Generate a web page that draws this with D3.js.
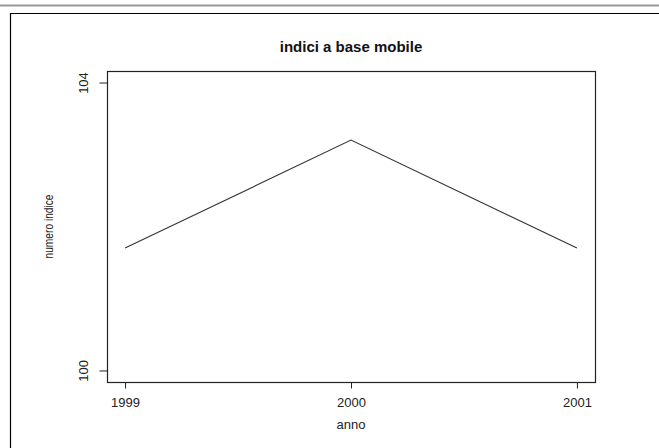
<!DOCTYPE html>
<html>
<head>
<meta charset="utf-8">
<script src="https://cdn.jsdelivr.net/npm/d3@7"></script>
<style>
  body { margin: 0; background: #fff; }
  svg { display: block; font-family: "Liberation Sans", Arial, sans-serif; }
</style>
</head>
<body>
<div id="chart"></div>
<script>
// data
var years = [1999, 2000, 2001];
var indexValues = [101.7, 103.2, 101.7];
var yTicks = [100, 104];
var yLimits = [100, 104];

var width = 659, height = 448;
var margin = { left: 107, right: 64, top: 71, bottom: 66 };

var svg = d3.select("#chart").append("svg")
    .attr("width", width)
    .attr("height", height);

// page decorations: gray rule and outer frame
svg.append("line")
    .attr("x1", 0).attr("x2", width)
    .attr("y1", 5.5).attr("y2", 5.5)
    .attr("stroke", "#999").attr("stroke-width", 2);
svg.append("path")
    .attr("d", "M" + (width + 2) + ",13.5 H10.5 V" + (height + 2))
    .attr("fill", "none")
    .attr("stroke", "#000").attr("stroke-width", 1.2);

// R style 4% padding on both axes
var xPad = (years[years.length - 1] - years[0]) * 0.04;
var yPad = (yLimits[1] - yLimits[0]) * 0.04;

var x = d3.scaleLinear()
    .domain([years[0] - xPad, years[years.length - 1] + xPad])
    .range([margin.left, width - margin.right]);

var y = d3.scaleLinear()
    .domain([yLimits[0] - yPad, yLimits[1] + yPad])
    .range([height - margin.bottom, margin.top]);

// plot box
svg.append("rect")
    .attr("x", margin.left + 0.5)
    .attr("y", margin.top + 0.5)
    .attr("width", width - margin.left - margin.right)
    .attr("height", height - margin.top - margin.bottom)
    .attr("fill", "none")
    .attr("stroke", "#222").attr("stroke-width", 1.2);

// x axis
var xAxis = svg.append("g")
    .attr("transform", "translate(0," + (height - margin.bottom + 0.5) + ")")
    .call(d3.axisBottom(x).tickValues(years).tickFormat(d3.format("d")).tickSize(6).tickPadding(9));
xAxis.select(".domain").remove();
xAxis.selectAll("text").attr("font-size", 13).attr("fill", "#222")
    .attr("font-family", "Liberation Sans, Arial, sans-serif");
xAxis.selectAll("line").attr("stroke", "#222");

// y axis
var yAxis = svg.append("g")
    .attr("transform", "translate(" + (margin.left + 0.5) + ",0)")
    .call(d3.axisLeft(y).tickValues(yTicks).tickFormat(d3.format("d")).tickSize(8).tickPadding(0));
yAxis.select(".domain").remove();
yAxis.selectAll("line").attr("stroke", "#222");
yAxis.selectAll("text")
    .attr("font-size", 13).attr("fill", "#222")
    .attr("font-family", "Liberation Sans, Arial, sans-serif")
    .attr("x", null)
    .attr("text-anchor", "middle")
    .attr("transform", "translate(-24,0) rotate(-90)")
    .attr("dy", "0.35em");

// the line
var line = d3.line()
    .x(function (d, i) { return x(years[i]); })
    .y(function (d) { return y(d); });

svg.append("path")
    .datum(indexValues)
    .attr("d", line)
    .attr("fill", "none")
    .attr("stroke", "#333")
    .attr("stroke-width", 1.1);

// title and axis labels
svg.append("text")
    .attr("x", (margin.left + width - margin.right) / 2)
    .attr("y", 52)
    .attr("text-anchor", "middle")
    .attr("font-size", 15)
    .attr("font-weight", "bold")
    .attr("fill", "#111")
    .text("indici a base mobile");

svg.append("text")
    .attr("x", (margin.left + width - margin.right) / 2)
    .attr("y", 429)
    .attr("text-anchor", "middle")
    .attr("font-size", 13)
    .attr("fill", "#222")
    .text("anno");

svg.append("text")
    .attr("transform", "translate(53," + ((margin.top + height - margin.bottom) / 2) + ") rotate(-90) scale(0.85,1)")
    .attr("text-anchor", "middle")
    .attr("font-size", 12)
    .attr("fill", "#222")
    .text("numero indice");
</script>
</body>
</html>
